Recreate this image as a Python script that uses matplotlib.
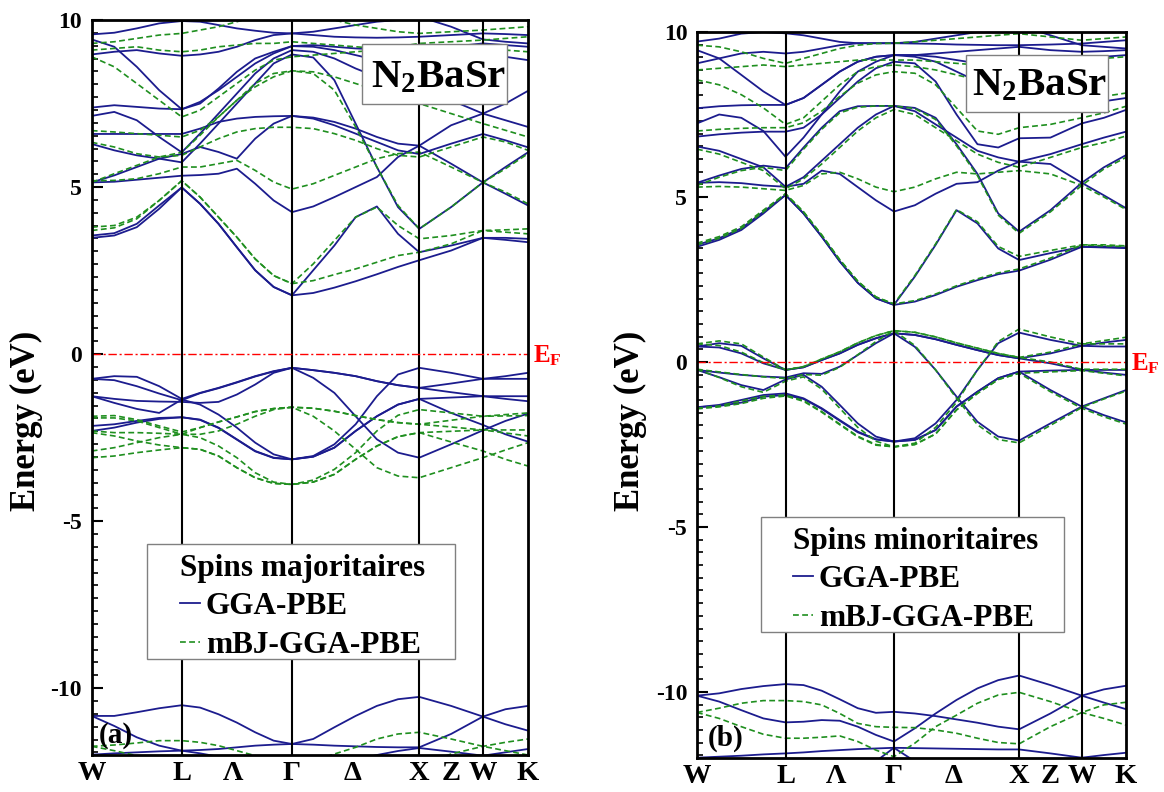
import matplotlib
matplotlib.use("Agg")
import matplotlib.pyplot as plt
from matplotlib.lines import Line2D
from matplotlib.patches import Rectangle
from matplotlib.ticker import AutoMinorLocator
import matplotlib.transforms as mtransforms

plt.rcParams['font.family'] = ['Liberation Serif', 'DejaVu Serif']
plt.rcParams['font.weight'] = 'bold'
plt.rcParams['mathtext.fontset'] = 'custom'
plt.rcParams['mathtext.rm'] = 'Liberation Serif:bold'
plt.rcParams['mathtext.bf'] = 'Liberation Serif:bold'
plt.rcParams['mathtext.it'] = 'Liberation Serif:bold'

# ---------------- data ----------------
k_path = [0.000, 0.177, 0.354, 0.530, 0.707, 0.851, 0.996, 1.140, 1.284, 1.429,
          1.573, 1.740, 1.906, 2.073, 2.240, 2.406, 2.573, 2.823, 3.073, 3.250, 3.427]
sym_lines = [0.707, 1.573, 2.573, 3.073]
tick_pos = [0.0, 0.707, 1.11, 1.573, 2.046, 2.573, 2.82, 3.073, 3.427]
tick_labels = ['W', 'L', 'Λ', 'Γ', 'Δ', 'X', 'Z', 'W', 'K']
y_ticks = [-10, -5, 0, 5, 10]
y_tick_labels = ['-10', '-5', '0', '5', '10']

# Panel (a) - majority spins, GGA-PBE
gga_a = [
    # core
    [-10.83, -10.83, -10.72, -10.60, -10.51, -10.58, -10.78, -11.03, -11.32, -11.57, -11.67, -11.52, -11.17, -10.83, -10.53, -10.33, -10.26, -10.53, -10.85, -11.08, -11.27],
    [-10.83, -11.13, -11.47, -11.72, -11.87, -11.85, -11.82, -11.77, -11.72, -11.69, -11.67, -11.69, -11.72, -11.74, -11.76, -11.77, -11.77, -11.37, -10.85, -10.63, -10.53],
    [-11.99, -11.95, -11.92, -11.89, -11.87, -11.95, -12.05, -12.20, -12.30, -12.40, -12.45, -12.40, -12.30, -12.15, -12.00, -11.88, -11.79, -11.90, -12.02, -11.92, -11.82],
    # valence
    [-0.74, -0.66, -0.68, -0.96, -1.34, -1.16, -1.01, -0.84, -0.66, -0.51, -0.41, -0.48, -0.56, -0.66, -0.81, -0.93, -1.01, -0.88, -0.74, -0.74, -0.74],
    [-0.74, -0.78, -0.96, -1.18, -1.38, -1.17, -1.02, -0.85, -0.67, -0.52, -0.41, -0.48, -0.56, -0.66, -0.81, -0.93, -1.01, -1.14, -1.26, -1.34, -1.41],
    [-1.26, -1.34, -1.40, -1.42, -1.43, -1.46, -1.43, -1.21, -0.91, -0.56, -0.41, -0.71, -1.16, -1.86, -2.55, -2.95, -3.10, -2.70, -2.28, -2.00, -1.78],
    [-1.26, -1.46, -1.64, -1.76, -1.36, -1.51, -1.81, -2.20, -2.65, -3.00, -3.15, -3.05, -2.70, -2.10, -1.26, -0.61, -0.41, -0.56, -0.74, -0.66, -0.56],
    [-2.15, -2.10, -2.00, -1.91, -1.89, -1.96, -2.20, -2.55, -2.90, -3.10, -3.15, -3.07, -2.80, -2.30, -1.86, -1.51, -1.34, -1.30, -1.26, -1.26, -1.26],
    [-2.30, -2.20, -2.05, -1.94, -1.89, -1.97, -2.21, -2.56, -2.91, -3.11, -3.15, -3.07, -2.80, -2.30, -1.86, -1.51, -1.34, -1.76, -2.12, -2.40, -2.62],
    # conduction
    [3.48, 3.55, 3.80, 4.35, 4.99, 4.50, 3.90, 3.20, 2.51, 2.01, 1.76, 1.83, 1.99, 2.18, 2.39, 2.61, 2.81, 3.10, 3.48, 3.48, 3.45],
    [3.55, 3.62, 3.90, 4.45, 4.99, 4.50, 3.90, 3.20, 2.51, 2.01, 1.76, 2.51, 3.25, 4.10, 4.42, 3.60, 3.05, 3.25, 3.48, 3.42, 3.35],
    [5.14, 5.16, 5.22, 5.28, 5.34, 5.36, 5.40, 5.55, 5.10, 4.60, 4.25, 4.42, 4.70, 5.00, 5.30, 5.90, 6.24, 5.70, 5.14, 5.60, 6.04],
    [5.14, 5.35, 5.60, 5.85, 5.74, 6.30, 6.90, 7.50, 8.10, 8.70, 8.97, 8.88, 8.20, 6.90, 5.60, 4.40, 3.75, 4.40, 5.14, 4.80, 4.45],
    [6.29, 6.10, 5.95, 5.85, 5.99, 6.20, 6.05, 5.85, 6.45, 6.90, 7.13, 7.05, 6.85, 6.60, 6.35, 6.10, 5.99, 6.30, 6.59, 6.40, 6.19],
    [6.59, 6.59, 6.59, 6.59, 6.59, 6.75, 6.95, 7.05, 7.10, 7.12, 7.13, 7.08, 6.95, 6.75, 6.50, 6.30, 6.24, 6.85, 7.20, 7.50, 7.88],
    [7.13, 7.25, 7.00, 6.50, 6.04, 6.60, 7.20, 7.80, 8.40, 8.85, 9.10, 9.05, 8.85, 8.55, 8.30, 8.15, 8.05, 7.60, 7.20, 7.00, 6.80],
    [7.38, 7.45, 7.40, 7.35, 7.33, 7.55, 7.90, 8.30, 8.70, 9.00, 9.22, 9.20, 9.10, 8.95, 8.80, 8.70, 8.60, 8.75, 8.97, 8.90, 8.80],
    [9.42, 9.20, 8.60, 7.90, 7.33, 7.50, 7.95, 8.45, 8.85, 9.05, 9.22, 9.25, 9.20, 9.15, 9.12, 9.10, 9.10, 9.20, 9.30, 9.25, 9.20],
    [8.97, 9.05, 9.10, 9.00, 8.93, 8.97, 9.05, 9.20, 9.40, 9.55, 9.60, 9.65, 9.75, 9.85, 9.95, 10.0, 10.1, 9.80, 9.42, 9.35, 9.30],
    [9.57, 9.62, 9.75, 9.90, 9.97, 9.95, 9.85, 9.75, 9.68, 9.62, 9.60, 9.55, 9.50, 9.48, 9.47, 9.48, 9.50, 9.55, 9.60, 9.58, 9.55],
]

# Panel (a) - majority spins, mBJ-GGA-PBE
mbj_a = [
    [-11.74, -11.70, -11.64, -11.57, -11.57, -11.62, -11.72, -11.87, -12.02, -12.17, -12.25, -12.17, -11.97, -11.77, -11.52, -11.37, -11.32, -11.52, -11.74, -11.87, -12.00],
    [-11.74, -11.87, -12.02, -12.20, -12.30, -12.30, -12.30, -12.30, -12.30, -12.30, -12.30, -12.30, -12.30, -12.30, -12.30, -12.30, -12.30, -11.97, -11.74, -11.62, -11.52],
    [-1.86, -1.84, -1.96, -2.15, -2.33, -2.20, -2.03, -1.88, -1.72, -1.63, -1.59, -1.62, -1.71, -1.84, -1.96, -2.05, -2.10, -1.98, -1.86, -1.85, -1.84],
    [-1.91, -1.91, -2.00, -2.20, -2.40, -2.40, -2.30, -2.10, -1.86, -1.66, -1.59, -1.86, -2.30, -2.85, -3.40, -3.65, -3.70, -3.40, -3.10, -2.87, -2.65],
    [-2.30, -2.35, -2.35, -2.37, -2.40, -2.50, -2.75, -3.10, -3.55, -3.83, -3.90, -3.77, -3.45, -2.95, -2.30, -1.83, -1.66, -1.76, -1.86, -1.81, -1.76],
    [-2.35, -2.45, -2.60, -2.72, -2.80, -2.85, -3.05, -3.40, -3.70, -3.87, -3.90, -3.83, -3.60, -3.15, -2.75, -2.47, -2.35, -2.31, -2.27, -2.27, -2.27],
    [-2.90, -2.80, -2.65, -2.50, -2.40, -2.20, -2.03, -1.88, -1.72, -1.63, -1.59, -1.62, -1.71, -1.84, -1.96, -2.05, -2.10, -2.18, -2.27, -2.36, -2.45],
    [-3.10, -3.05, -2.95, -2.87, -2.80, -2.85, -3.05, -3.40, -3.70, -3.87, -3.90, -3.83, -3.60, -3.15, -2.75, -2.47, -2.35, -2.63, -2.90, -3.15, -3.35],
    [3.80, 3.85, 4.10, 4.60, 5.19, 4.70, 4.10, 3.50, 2.85, 2.35, 2.11, 2.20, 2.38, 2.55, 2.75, 2.95, 3.05, 3.30, 3.70, 3.72, 3.75],
    [3.70, 3.78, 4.05, 4.60, 5.19, 4.70, 4.10, 3.50, 2.85, 2.35, 2.11, 2.70, 3.40, 4.10, 4.40, 3.85, 3.45, 3.55, 3.70, 3.65, 3.60],
    [5.19, 5.20, 5.25, 5.40, 5.60, 5.60, 5.70, 5.80, 5.50, 5.15, 4.94, 5.10, 5.35, 5.60, 5.85, 6.00, 6.05, 5.60, 5.14, 5.55, 6.00],
    [5.14, 5.40, 5.65, 5.90, 6.04, 6.55, 7.10, 7.60, 8.00, 8.30, 8.48, 8.40, 7.90, 6.80, 5.60, 4.45, 3.75, 4.40, 5.14, 4.85, 4.50],
    [6.34, 6.20, 6.00, 5.90, 5.95, 6.20, 6.45, 6.65, 6.75, 6.79, 6.79, 6.75, 6.60, 6.40, 6.15, 5.95, 5.90, 6.20, 6.50, 6.35, 6.10],
    [6.69, 6.65, 6.60, 6.55, 6.50, 6.70, 7.10, 7.60, 8.10, 8.40, 8.48, 8.45, 8.30, 8.10, 7.90, 7.70, 7.50, 7.20, 6.90, 6.70, 6.50],
    [8.90, 8.60, 8.10, 7.60, 7.10, 7.30, 7.70, 8.10, 8.50, 8.80, 8.90, 8.95, 9.00, 9.05, 9.10, 9.10, 9.15, 9.15, 9.15, 9.10, 9.05],
    [9.10, 9.15, 9.20, 9.10, 9.05, 9.10, 9.20, 9.25, 9.30, 9.30, 9.35, 9.30, 9.25, 9.20, 9.15, 9.20, 9.30, 9.35, 9.40, 9.45, 9.50],
    [9.30, 9.35, 9.45, 9.55, 9.60, 9.70, 9.80, 9.95, 10.10, 10.20, 10.20, 10.10, 10.00, 9.85, 9.75, 9.65, 9.60, 9.65, 9.70, 9.75, 9.80],
]

# Panel (b) - minority spins, GGA-PBE
gga_b = [
    [-10.11, -10.04, -9.91, -9.82, -9.76, -9.79, -9.96, -10.22, -10.49, -10.63, -10.60, -10.65, -10.73, -10.83, -10.93, -11.05, -11.13, -10.65, -10.11, -9.92, -9.81],
    [-10.11, -10.29, -10.55, -10.80, -10.92, -10.90, -10.85, -10.87, -11.05, -11.30, -11.50, -11.10, -10.65, -10.24, -9.89, -9.64, -9.50, -9.79, -10.11, -10.32, -10.52],
    [-11.99, -11.96, -11.93, -11.89, -11.86, -11.83, -11.79, -11.76, -11.73, -11.71, -11.69, -11.70, -11.71, -11.72, -11.73, -11.74, -11.74, -11.86, -11.99, -11.91, -11.84],
    [-12.50, -12.50, -12.50, -12.50, -12.50, -12.50, -12.50, -12.50, -12.50, -12.10, -11.69, -12.10, -12.50, -12.50, -12.50, -12.50, -12.50, -12.50, -12.50, -12.50, -12.50],
    [0.47, 0.57, 0.49, 0.11, -0.24, -0.16, 0.06, 0.26, 0.52, 0.72, 0.87, 0.82, 0.69, 0.52, 0.36, 0.21, 0.11, 0.26, 0.49, 0.47, 0.47],
    [0.47, 0.44, 0.26, -0.04, -0.24, -0.16, 0.06, 0.26, 0.52, 0.72, 0.87, 0.82, 0.69, 0.52, 0.36, 0.21, 0.11, -0.04, -0.24, -0.24, -0.24],
    [-0.24, -0.32, -0.39, -0.44, -0.47, -0.34, -0.36, -0.14, 0.21, 0.57, 0.87, 0.46, -0.24, -1.05, -1.81, -2.26, -2.38, -1.86, -1.35, -1.10, -0.85],
    [-0.24, -0.46, -0.70, -0.85, -0.53, -0.39, -0.75, -1.30, -1.86, -2.26, -2.41, -2.31, -1.86, -1.15, -0.24, 0.57, 0.89, 0.67, 0.49, 0.59, 0.67],
    [-1.37, -1.30, -1.15, -1.00, -0.95, -1.10, -1.40, -1.76, -2.11, -2.34, -2.41, -2.36, -2.06, -1.35, -0.90, -0.49, -0.29, -0.26, -0.24, -0.32, -0.39],
    [-1.37, -1.33, -1.23, -1.05, -1.00, -1.12, -1.42, -1.78, -2.13, -2.35, -2.41, -2.36, -2.06, -1.35, -0.90, -0.49, -0.29, -0.85, -1.35, -1.61, -1.83],
    [3.49, 3.70, 4.00, 4.50, 5.06, 4.50, 3.80, 3.05, 2.40, 1.93, 1.73, 1.83, 2.03, 2.28, 2.48, 2.66, 2.77, 3.10, 3.49, 3.49, 3.47],
    [3.55, 3.75, 4.05, 4.55, 5.06, 4.50, 3.80, 3.05, 2.40, 1.93, 1.73, 2.59, 3.55, 4.60, 4.20, 3.44, 3.09, 3.30, 3.49, 3.47, 3.45],
    [5.43, 5.45, 5.42, 5.35, 5.31, 5.40, 5.80, 5.70, 5.30, 4.90, 4.56, 4.75, 5.10, 5.40, 5.45, 5.80, 6.07, 6.00, 5.43, 5.05, 4.66],
    [5.43, 5.65, 5.85, 5.95, 5.87, 6.50, 7.10, 7.60, 7.75, 7.76, 7.76, 7.70, 7.40, 6.60, 5.70, 4.50, 3.95, 4.60, 5.43, 5.90, 6.27],
    [6.53, 6.40, 6.15, 5.90, 5.31, 5.60, 6.10, 6.60, 7.10, 7.50, 7.76, 7.60, 7.20, 6.80, 6.40, 6.20, 6.07, 6.30, 6.60, 6.80, 6.98],
    [6.83, 6.90, 6.95, 6.98, 6.98, 7.10, 7.50, 8.00, 8.50, 8.90, 9.10, 9.05, 8.50, 7.50, 6.60, 6.50, 6.78, 6.80, 7.23, 7.40, 7.64],
    [7.23, 7.50, 7.40, 7.00, 6.22, 6.80, 7.50, 8.20, 8.80, 9.10, 9.30, 9.25, 9.10, 8.80, 8.50, 8.30, 8.20, 8.00, 7.80, 7.90, 8.00],
    [7.69, 7.75, 7.78, 7.79, 7.79, 8.00, 8.40, 8.80, 9.10, 9.25, 9.30, 9.30, 9.25, 9.15, 9.05, 9.00, 9.00, 9.10, 9.20, 9.25, 9.30],
    [9.45, 9.20, 8.70, 8.20, 7.79, 8.00, 8.40, 8.80, 9.10, 9.25, 9.30, 9.30, 9.35, 9.40, 9.45, 9.50, 9.55, 9.45, 9.40, 9.42, 9.45],
    [9.05, 9.20, 9.35, 9.40, 9.35, 9.40, 9.50, 9.60, 9.66, 9.66, 9.66, 9.70, 9.80, 9.90, 10.00, 10.10, 10.20, 9.90, 9.60, 9.55, 9.50],
    [9.71, 9.80, 9.95, 10.00, 9.96, 9.90, 9.80, 9.70, 9.66, 9.66, 9.66, 9.65, 9.64, 9.62, 9.61, 9.60, 9.60, 9.62, 9.65, 9.70, 9.75],
]

# Panel (b) - minority spins, mBJ-GGA-PBE
mbj_b = [
    [-10.62, -10.49, -10.34, -10.26, -10.26, -10.29, -10.39, -10.65, -10.95, -11.05, -11.07, -11.08, -11.15, -11.25, -11.40, -11.53, -11.57, -11.05, -10.62, -10.39, -10.31],
    [-10.62, -10.80, -11.05, -11.28, -11.40, -11.40, -11.37, -11.33, -11.50, -11.76, -11.96, -11.55, -11.05, -10.70, -10.34, -10.09, -10.01, -10.29, -10.62, -10.80, -11.00],
    [0.55, 0.64, 0.55, 0.15, -0.24, -0.14, 0.09, 0.31, 0.58, 0.80, 0.95, 0.90, 0.76, 0.58, 0.42, 0.26, 0.14, 0.30, 0.55, 0.55, 0.55],
    [0.55, 0.50, 0.30, -0.02, -0.24, -0.14, 0.09, 0.31, 0.58, 0.80, 0.95, 0.90, 0.76, 0.58, 0.42, 0.26, 0.14, 0.00, -0.22, -0.22, -0.22],
    [-0.22, -0.30, -0.38, -0.45, -0.50, -0.38, -0.40, -0.16, 0.22, 0.62, 0.95, 0.50, -0.24, -1.10, -1.90, -2.35, -2.45, -1.92, -1.38, -1.12, -0.88],
    [-0.22, -0.47, -0.75, -0.92, -0.58, -0.45, -0.82, -1.40, -1.98, -2.40, -2.57, -2.46, -1.98, -1.22, -0.24, 0.62, 1.00, 0.76, 0.55, 0.65, 0.75],
    [-1.40, -1.33, -1.18, -1.04, -1.00, -1.17, -1.50, -1.88, -2.25, -2.50, -2.57, -2.50, -2.18, -1.45, -0.95, -0.53, -0.34, -0.30, -0.26, -0.34, -0.42],
    [-1.42, -1.36, -1.26, -1.10, -1.03, -1.19, -1.52, -1.90, -2.27, -2.52, -2.57, -2.50, -2.18, -1.45, -0.95, -0.53, -0.34, -0.90, -1.40, -1.66, -1.88],
    [3.55, 3.75, 4.05, 4.55, 5.10, 4.55, 3.85, 3.10, 2.45, 1.97, 1.76, 1.86, 2.06, 2.31, 2.52, 2.70, 2.82, 3.15, 3.55, 3.55, 3.52],
    [3.60, 3.80, 4.10, 4.60, 5.10, 4.55, 3.85, 3.10, 2.45, 1.97, 1.76, 2.62, 3.58, 4.62, 4.25, 3.50, 3.20, 3.38, 3.55, 3.52, 3.50],
    [5.30, 5.32, 5.30, 5.25, 5.20, 5.35, 5.70, 5.75, 5.55, 5.30, 5.16, 5.30, 5.55, 5.75, 5.70, 5.75, 5.80, 5.70, 5.35, 5.00, 4.62],
    [5.35, 5.60, 5.80, 5.90, 5.80, 6.45, 7.05, 7.55, 7.72, 7.76, 7.76, 7.68, 7.35, 6.55, 5.65, 4.45, 3.90, 4.55, 5.35, 5.85, 6.20],
    [6.45, 6.30, 6.05, 5.80, 5.25, 5.55, 6.00, 6.50, 7.00, 7.40, 7.65, 7.50, 7.10, 6.70, 6.30, 6.05, 5.90, 6.20, 6.50, 6.65, 6.85],
    [7.00, 7.05, 7.08, 7.10, 7.10, 7.25, 7.60, 8.05, 8.45, 8.70, 8.80, 8.75, 8.40, 7.70, 7.00, 6.90, 7.10, 7.20, 7.40, 7.55, 7.75],
    [8.55, 8.40, 8.10, 7.70, 7.20, 7.40, 7.90, 8.40, 8.80, 8.95, 9.00, 8.95, 8.85, 8.70, 8.55, 8.40, 8.30, 8.15, 8.00, 8.05, 8.15],
    [8.85, 8.90, 8.95, 9.00, 8.95, 9.00, 9.05, 9.10, 9.15, 9.15, 9.15, 9.15, 9.10, 9.05, 9.00, 8.95, 8.95, 9.05, 9.15, 9.20, 9.25],
    [9.60, 9.55, 9.40, 9.20, 9.05, 9.20, 9.35, 9.50, 9.60, 9.65, 9.66, 9.70, 9.75, 9.80, 9.85, 9.90, 9.95, 9.85, 9.75, 9.80, 9.85],
]

# ---------------- style ----------------
NAVY = '#1c1c8e'
GREEN = '#1f8f1f'
EDGE = '#808080'

fig = plt.figure(figsize=(11.64, 7.92), dpi=100)
axA = fig.add_axes([0.0788, 0.0467, 0.3748, 0.928])
axB = fig.add_axes([0.5988, 0.0429, 0.3686, 0.9167])


def draw_panel(ax, gga, mbj, spin_title, leg_box, leg_anchor, title_box, title_pos,
               panel_tag, ylabel_xy):
    for band in gga:
        ax.plot(k_path, band, color=NAVY, lw=1.3, zorder=2, solid_joinstyle='round')
    for band in mbj:
        ax.plot(k_path, band, color=GREEN, lw=1.2, dashes=(3.5, 2.0), zorder=3)
    for x in sym_lines:
        ax.axvline(x, color='black', lw=1.5, zorder=4)
    ax.axhline(0, color='red', lw=1.0, dashes=(6, 2, 1.5, 2), zorder=5)

    ax.set_xlim(k_path[0], k_path[-1])
    ax.set_ylim(-12, 10)
    ax.set_xticks(tick_pos)
    ax.set_xticklabels(tick_labels, fontsize=20.5, fontweight='bold')
    ax.set_yticks(y_ticks)
    ax.set_yticklabels(y_tick_labels, fontsize=17, fontweight='bold')
    ax.yaxis.set_minor_locator(AutoMinorLocator(13))
    ax.tick_params(axis='x', length=0, pad=4)
    ax.tick_params(axis='y', which='major', direction='in', length=8, width=1.5, pad=7)
    ax.tick_params(axis='y', which='minor', direction='in', length=4.5, width=1.2)
    for sp in ax.spines.values():
        sp.set_linewidth(2.0)
        sp.set_zorder(6)

    ax.set_ylabel('Energy (eV)', fontsize=25, fontweight='bold')
    ax.yaxis.set_label_coords(*ylabel_xy)

    # legend frame
    x0, y0, x1, y1 = leg_box
    ax.add_patch(Rectangle((x0, y0), x1 - x0, y1 - y0, transform=ax.transAxes,
                           fc='white', ec=EDGE, lw=1.0, zorder=9))
    handles = [Line2D([], [], color=NAVY, lw=1.3),
               Line2D([], [], color=GREEN, lw=1.2, dashes=(3.5, 2.0))]
    leg = ax.legend(handles, ['GGA-PBE', 'mBJ-GGA-PBE'], title=spin_title,
                    loc='upper left', bbox_to_anchor=leg_anchor,
                    prop={'size': 22.5, 'weight': 'bold'}, title_fontsize=22.5,
                    frameon=False, alignment='left',
                    handlelength=0.65, handletextpad=0.17, borderpad=0.0,
                    labelspacing=0.3, borderaxespad=0)
    leg.get_title().set_fontweight('bold')
    leg.set_zorder(10)

    # compound title box
    bx0, by0, bx1, by1 = title_box
    ax.add_patch(Rectangle((bx0, by0), bx1 - bx0, by1 - by0, transform=ax.transAxes,
                           fc='white', ec=EDGE, lw=1.0, zorder=9))
    ax.text(title_pos[0], title_pos[1], r'$\mathbf{N_2BaSr}$', transform=ax.transAxes,
            ha='center', va='baseline', fontsize=29.5, zorder=11)

    trans = mtransforms.blended_transform_factory(ax.transAxes, ax.transData)
    ax.text(1.012, -0.24, r'$\mathbf{E_F}$', transform=trans, color='red',
            fontsize=18, ha='left', va='baseline', clip_on=False)

    ax.text(panel_tag[1], 0.008, panel_tag[0], transform=ax.transAxes,
            fontsize=21, fontweight='bold', ha='left', va='bottom', zorder=7)


draw_panel(axA, gga_a, mbj_a, 'Spins majoritaires',
           (0.1267, 0.1306, 0.8327, 0.2871), (0.2024, 0.2735),
           (0.6195, 0.8857, 0.9519, 0.9673), (0.795, 0.9088),
           ('(a)', 0.017), (-0.1116, 0.455))
draw_panel(axB, gga_b, mbj_b, 'Spins minoritaires',
           (0.1492, 0.1736, 0.8555, 0.3320), (0.2238, 0.3182),
           (0.627, 0.8898, 0.958, 0.9683), (0.7995, 0.9132),
           ('(b)', 0.024), (-0.1166, 0.464))

fig.savefig('out.png', dpi=100)
